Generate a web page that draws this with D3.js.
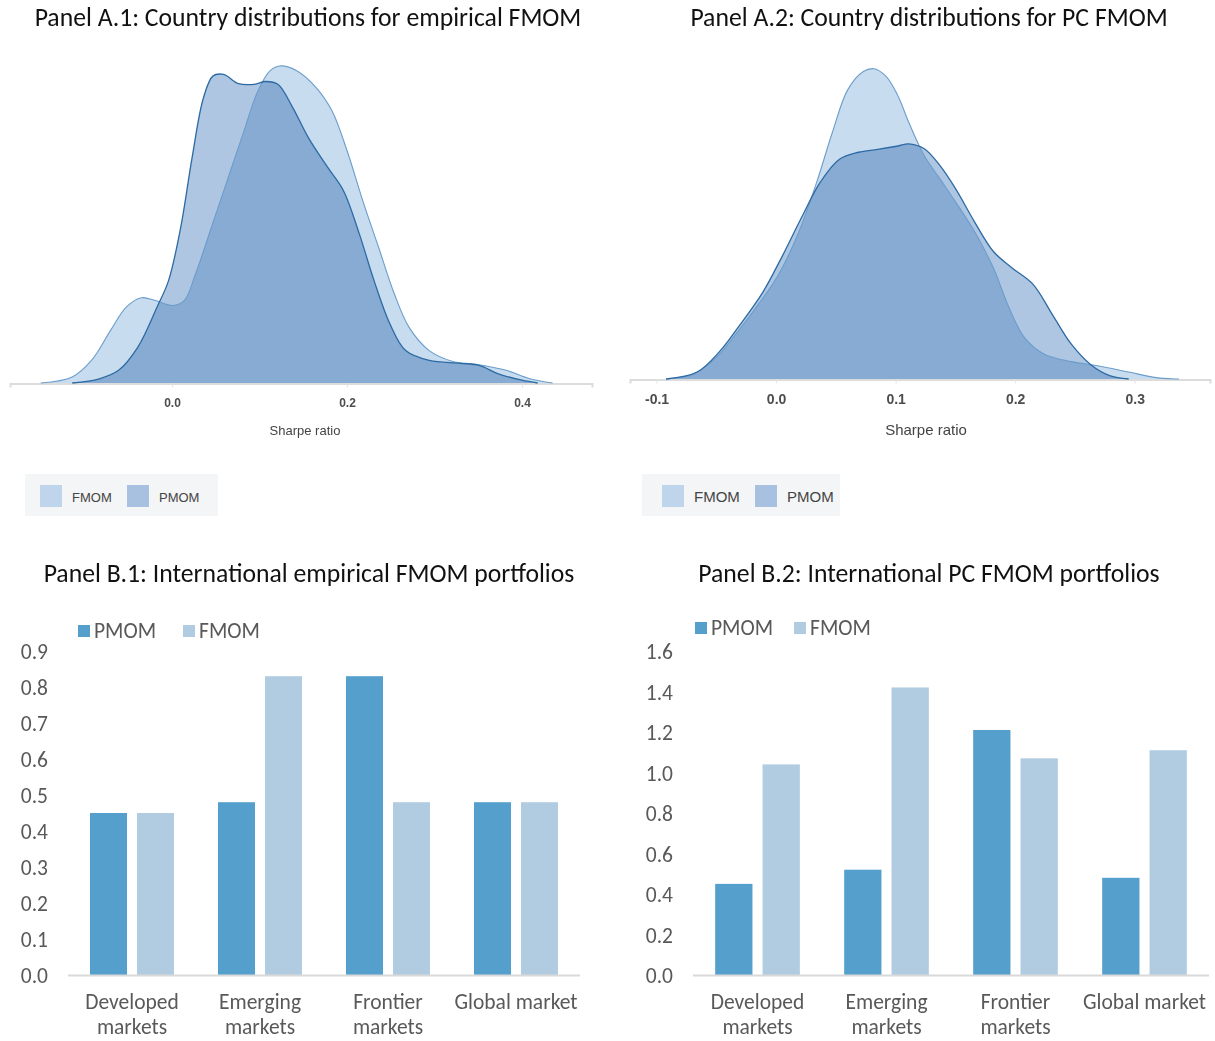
<!DOCTYPE html>
<html>
  <head>
    <title>FMOM panels</title>
    <style>
      body { margin: 0; background: #fff; }
      .title { font-family: Carlito, Calibri, Lato, sans-serif; font-size: 25.7px; fill: #111; }
      .dtick text { font-family: Arial, "Liberation Sans", sans-serif; font-weight: bold; fill: #4d4d4d; }
      .btick text { font-family: Carlito, Calibri, Lato, sans-serif; font-size: 21.5px; fill: #595959; }
      .cat { font-family: Carlito, Calibri, Lato, sans-serif; font-size: 21.5px; fill: #595959; }
      .leg { font-family: Carlito, Calibri, Lato, sans-serif; font-size: 21.5px; fill: #595959; }
      .dleg { font-family: Arial, "Liberation Sans", sans-serif; font-size: 13px; fill: #444; }
    </style>
    <script src="https://d3js.org/d3.v7.min.js"></script>
  </head>
  <body>
    <div id="chart"></div>
    <script type="text/javascript">
      // density curves, Sharpe ratio vs density
      var a1Fmom = [[-0.150,0],[-0.114,0.085],[-0.092,0.32],[-0.070,0.75],[-0.052,1.08],[-0.035,1.21],
        [-0.019,1.17],[0.001,1.10],[0.014,1.17],[0.027,1.55],[0.045,2.21],[0.063,2.87],[0.081,3.53],
        [0.098,4.14],[0.112,4.43],[0.123,4.50],[0.143,4.43],[0.165,4.19],[0.183,3.86],[0.200,3.30],
        [0.218,2.59],[0.236,1.93],[0.254,1.27],[0.271,0.79],[0.294,0.46],[0.320,0.31],[0.351,0.26],
        [0.382,0.18],[0.409,0.06],[0.435,0]];
      var a1Pmom = [[-0.114,0],[-0.083,0.06],[-0.061,0.18],[-0.039,0.51],[-0.017,1.08],[-0.004,1.45],
        [0.010,2.21],[0.023,3.20],[0.036,4.05],[0.047,4.36],[0.059,4.38],[0.076,4.25],[0.094,4.24],
        [0.107,4.28],[0.121,4.24],[0.138,3.91],[0.156,3.48],[0.178,3.06],[0.196,2.73],[0.214,2.12],
        [0.231,1.45],[0.249,0.84],[0.267,0.46],[0.294,0.32],[0.329,0.28],[0.351,0.25],[0.373,0.13],
        [0.400,0.04],[0.418,0]];
      var a2Fmom = [[-0.092,0],[-0.069,0.07],[-0.050,0.31],[-0.034,0.64],[-0.015,1.07],[0.002,1.50],
        [0.018,2.07],[0.034,2.83],[0.047,3.54],[0.060,4.16],[0.073,4.42],[0.082,4.46],[0.092,4.35],
        [0.102,4.07],[0.111,3.69],[0.124,3.21],[0.137,2.88],[0.150,2.55],[0.166,2.12],[0.182,1.59],
        [0.195,1.02],[0.208,0.59],[0.224,0.36],[0.247,0.25],[0.269,0.19],[0.295,0.10],[0.318,0.02],
        [0.337,0]];
      var a2Pmom = [[-0.092,0],[-0.066,0.10],[-0.047,0.40],[-0.031,0.76],[-0.011,1.25],[0.005,1.76],
        [0.021,2.31],[0.037,2.83],[0.053,3.16],[0.069,3.26],[0.085,3.30],[0.102,3.35],[0.111,3.38],
        [0.124,3.31],[0.137,3.07],[0.150,2.74],[0.166,2.26],[0.182,1.83],[0.198,1.59],[0.215,1.36],
        [0.231,0.93],[0.247,0.50],[0.263,0.21],[0.279,0.05],[0.295,0]];
      var a1Ticks = [0.0, 0.2, 0.4];
      var a2Ticks = [-0.1, 0.0, 0.1, 0.2, 0.3];

      // bar panels
      var categories = [["Developed", "markets"], ["Emerging", "markets"], ["Frontier", "markets"], ["Global market"]];
      var seriesNames = ["PMOM", "FMOM"];
      var b1Pmom = [0.45, 0.48, 0.83, 0.48];
      var b1Fmom = [0.45, 0.83, 0.48, 0.48];
      var b2Pmom = [0.45, 0.52, 1.21, 0.48];
      var b2Fmom = [1.04, 1.42, 1.07, 1.11];
      var b1Ticks = [0, 0.1, 0.2, 0.3, 0.4, 0.5, 0.6, 0.7, 0.8, 0.9];
      var b2Ticks = [0, 0.2, 0.4, 0.6, 0.8, 1.0, 1.2, 1.4, 1.6];

      var width = 1215, height = 1041;
      var svg = d3.select("#chart").append("svg")
        .attr("width", width)
        .attr("height", height);

      var fmomFill = "#c8dcef", pmomFill = "#aec6e2";
      var fmomLine = "#6b9dcb", pmomLine = "#2c6aa3";

      function densityPanel(opt) {
        var x = d3.scaleLinear().domain([opt.x0, opt.x1]).range([opt.left, opt.right]);
        var y = d3.scaleLinear().domain([0, 4.5]).range([opt.base, opt.base - opt.h]);
        var g = svg.append("g");

        g.append("text").attr("class", "title")
          .attr("x", opt.titleX).attr("y", 26)
          .attr("text-anchor", "middle").text(opt.title);

        var area = d3.area().curve(d3.curveCatmullRom)
          .x(function(d){ return x(d[0]); })
          .y0(y(0)).y1(function(d){ return y(d[1]); });
        var line = d3.line().curve(d3.curveCatmullRom)
          .x(function(d){ return x(d[0]); })
          .y(function(d){ return y(d[1]); });

        var ax = g.append("g").attr("class", "dtick")
          .attr("transform", "translate(0," + (opt.base + 0.5) + ")")
          .call(d3.axisBottom(x).tickValues(opt.ticks).tickSize(4).tickPadding(opt.pad)
            .tickFormat(d3.format(".1f")));
        ax.select(".domain").attr("stroke", "#dcdcdc").attr("stroke-width", 2);
        ax.selectAll(".tick line").attr("stroke", "#e4e4e4");
        ax.selectAll(".tick text").style("font-size", opt.tickSize + "px")
          .text(function(d){ return d3.format(".1f")(d).replace("−", "-"); });

        g.append("path").datum(opt.pmom).attr("d", area).attr("fill", pmomFill);
        g.append("path").datum(opt.fmom).attr("d", area).attr("fill", fmomFill)
          .style("mix-blend-mode", "multiply");
        g.append("path").datum(opt.fmom).attr("d", line).attr("fill", "none")
          .attr("stroke", fmomLine).attr("stroke-width", 1.1);
        g.append("path").datum(opt.pmom).attr("d", line).attr("fill", "none")
          .attr("stroke", pmomLine).attr("stroke-width", 1.3);

        g.append("text").attr("class", "dleg")
          .attr("x", opt.labelX).attr("y", opt.labelY)
          .attr("text-anchor", "middle").style("font-size", opt.labelSize + "px")
          .text("Sharpe ratio");

        // legend
        var lg = g.append("g").attr("transform", "translate(" + opt.legX + ",474)");
        lg.append("rect").attr("width", opt.legW).attr("height", 42).attr("fill", "#f4f5f6");
        var items = [["FMOM", "#bed5eb"], ["PMOM", "#a8c1e0"]];
        items.forEach(function(it, i) {
          lg.append("rect").attr("x", opt.legPad + i * opt.legStep).attr("y", 11)
            .attr("width", 22).attr("height", 22).attr("fill", it[1]);
          lg.append("text").attr("class", "dleg")
            .attr("x", opt.legPad + 32 + i * opt.legStep).attr("y", 28)
            .style("font-size", opt.legSize + "px").text(it[0]);
        });
      }

      densityPanel({ title: "Panel A.1: Country distributions for empirical FMOM", titleX: 308,
        x0: -0.1851, x1: 0.48, left: 10, right: 592, base: 383, h: 317,
        fmom: a1Fmom, pmom: a1Pmom, ticks: a1Ticks, tickSize: 12, pad: 11,
        labelX: 305, labelY: 435, labelSize: 13, legX: 25, legW: 193, legPad: 15, legStep: 87, legSize: 13 });
      densityPanel({ title: "Panel A.2: Country distributions for PC FMOM", titleX: 929,
        x0: -0.1222, x1: 0.363, left: 630, right: 1210, base: 379, h: 313,
        fmom: a2Fmom, pmom: a2Pmom, ticks: a2Ticks, tickSize: 14, pad: 11,
        labelX: 926, labelY: 435, labelSize: 15, legX: 642, legW: 198, legPad: 20, legStep: 93, legSize: 15 });

      function barPanel(opt) {
        var g = svg.append("g");
        g.append("text").attr("class", "title")
          .attr("x", opt.titleX).attr("y", 582)
          .attr("text-anchor", "middle").text(opt.title);

        var x = d3.scaleBand().domain(d3.range(categories.length))
          .range([opt.left, opt.right]).paddingInner(0).paddingOuter(0);
        var x1 = d3.scaleBand().domain(seriesNames).range([0, x.bandwidth()])
          .paddingInner(0.213).paddingOuter(0.468);
        var y = d3.scaleLinear().domain([0, opt.max]).range([975, 651]);
        var colors = { PMOM: "#559fcd", FMOM: "#b1cce0" };

        var ay = g.append("g").attr("class", "btick")
          .attr("transform", "translate(" + opt.axisX + ",0)")
          .call(d3.axisLeft(y).tickValues(opt.ticks).tickSize(0).tickPadding(0)
            .tickFormat(d3.format(".1f")));
        ay.select(".domain").remove();
        ay.selectAll(".tick text").attr("dy", "0.35em");

        var series = { PMOM: opt.pmom, FMOM: opt.fmom };
        seriesNames.forEach(function(s) {
          g.selectAll(".bar" + s).data(series[s]).enter().append("rect")
            .attr("x", function(d, i){ return x(i) + x1(s); })
            .attr("y", function(d){ return y(d); })
            .attr("width", x1.bandwidth())
            .attr("height", function(d){ return y(0) - y(d); })
            .attr("fill", colors[s]);
        });

        g.append("line").attr("x1", opt.left).attr("x2", opt.right)
          .attr("y1", y(0) + 0.5).attr("y2", y(0) + 0.5)
          .attr("stroke", "#d9d9d9").attr("stroke-width", 2);

        categories.forEach(function(c, i) {
          var t = g.append("text").attr("class", "cat")
            .attr("x", x(i) + x.bandwidth() / 2).attr("y", 1009)
            .attr("text-anchor", "middle");
          c.forEach(function(w, j) {
            t.append("tspan").attr("x", x(i) + x.bandwidth() / 2)
              .attr("dy", j === 0 ? 0 : 25).text(w);
          });
        });

        seriesNames.forEach(function(s, i) {
          g.append("rect").attr("x", opt.legX + i * opt.legStep).attr("y", opt.legY - 13)
            .attr("width", 12).attr("height", 12).attr("fill", colors[s]);
          g.append("text").attr("class", "leg")
            .attr("x", opt.legX + 16 + i * opt.legStep).attr("y", opt.legY).text(s);
        });
      }

      barPanel({ title: "Panel B.1: International empirical FMOM portfolios", titleX: 309,
        left: 68, right: 580, max: 0.9, ticks: b1Ticks, axisX: 48,
        pmom: b1Pmom, fmom: b1Fmom, legX: 78, legY: 638, legStep: 105 });
      barPanel({ title: "Panel B.2: International PC FMOM portfolios", titleX: 929,
        left: 693, right: 1209, max: 1.6, ticks: b2Ticks, axisX: 673,
        pmom: b2Pmom, fmom: b2Fmom, legX: 695, legY: 635, legStep: 99 });
    </script>
  </body>
</html>
